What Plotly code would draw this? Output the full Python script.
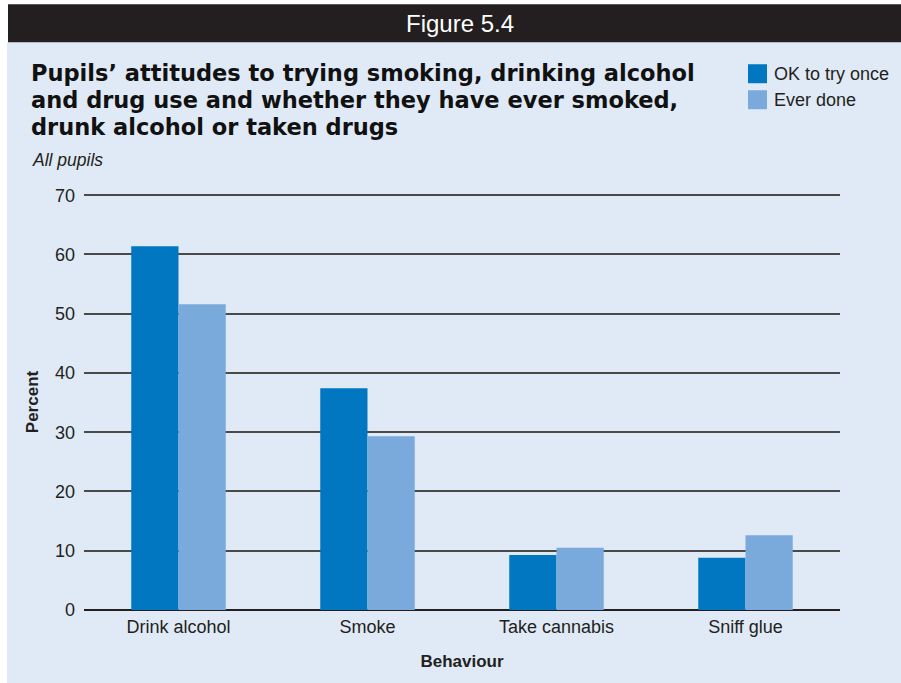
import plotly.graph_objects as go

# Survey results (percent of all pupils)
behaviours = ["Drink alcohol", "Smoke", "Take cannabis", "Sniff glue"]
ok_to_try_once = [61.4, 37.4, 9.3, 8.8]
ever_done = [51.6, 29.3, 10.5, 12.6]
series_names = ["OK to try once", "Ever done"]
series_colors = ["#0077c0", "#7aaadb"]
y_ticks = [0, 10, 20, 30, 40, 50, 60, 70]
title_lines = [
    "Pupils’ attitudes to trying smoking, drinking alcohol",
    "and drug use and whether they have ever smoked,",
    "drunk alcohol or taken drugs",
]

W, H = 901, 683
Y_TOP = 70.2
L, R, B = 84, 61, 73
PLOT_H = 415 * Y_TOP / 70
T = H - B - PLOT_H
PANEL = "#e0eaf6"
HEADER = "#231f20"
TEXT = "#231f20"
FONT = "Liberation Sans, Arial"


def px(x):
    return (x - L) / (W - L - R)


def py(y):
    return (H - B - y) / PLOT_H


fig = go.Figure()
for name, vals, col in zip(series_names, [ok_to_try_once, ever_done], series_colors):
    fig.add_trace(go.Bar(x=behaviours, y=vals, name=name, marker_color=col,
                         marker_line_width=0, showlegend=False))

shapes = [
    # light panel behind everything
    dict(type="rect", xref="paper", yref="paper", x0=px(7), x1=px(W + 2),
         y0=py(H + 2), y1=py(42), fillcolor=PANEL, line_width=0, layer="below"),
    # dark header strip
    dict(type="rect", xref="paper", yref="paper", x0=px(8), x1=px(W + 2),
         y0=py(42), y1=py(4), fillcolor=HEADER, line_width=0, layer="below"),
]

annotations = [
    dict(text="Figure 5.4", xref="paper", yref="paper", x=px(460), y=py(23),
         xanchor="center", yanchor="middle", showarrow=False,
         font=dict(family=FONT, size=24, color="white")),
    dict(text="<i>All pupils</i>", xref="paper", yref="paper", x=px(30), y=py(160),
         xanchor="left", yanchor="middle", showarrow=False,
         font=dict(family=FONT, size=17.5, color=TEXT)),
]

# heavy three-line heading
for i, line in enumerate(title_lines):
    annotations.append(dict(text=line, xref="paper", yref="paper", x=px(29), y=py(73 + 27 * i),
                            xanchor="left", yanchor="middle", showarrow=False,
                            font=dict(family="DejaVu Sans, Liberation Sans, Arial", size=22.5,
                                      weight="bold", color="#111")))

# legend swatches and labels
for i, (name, col) in enumerate(zip(series_names, series_colors)):
    top = 64 + i * 26
    shapes.append(dict(type="rect", xref="paper", yref="paper", x0=px(748), x1=px(767),
                       y0=py(top + 19), y1=py(top), fillcolor=col, line_width=0))
    annotations.append(dict(text=name, xref="paper", yref="paper", x=px(772), y=py(top + 9.5),
                            xanchor="left", yanchor="middle", showarrow=False,
                            font=dict(family=FONT, size=18, color=TEXT)))

fig.update_layout(
    width=W, height=H,
    margin=dict(l=L, r=R, t=T, b=B),
    paper_bgcolor="white",
    plot_bgcolor="rgba(0,0,0,0)",
    barmode="group", bargap=0.5, bargroupgap=0,
    shapes=shapes, annotations=annotations,
    font=dict(family=FONT, size=18, color=TEXT),
    xaxis=dict(range=[-0.5, 3.5], showgrid=False, showline=False, ticks="",
               tickfont=dict(size=18, color=TEXT), ticklabelstandoff=4,
               title=dict(text="<b>Behaviour</b>", font=dict(size=17, color=TEXT), standoff=19)),
    yaxis=dict(range=[0, Y_TOP], tickvals=y_ticks, showgrid=True, gridcolor="#4a4a4a",
               gridwidth=1.5, zeroline=True, zerolinecolor="#231f20", zerolinewidth=1.5,
               showline=False, ticks="", ticklabelstandoff=8,
               tickfont=dict(size=18, color=TEXT),
               title=dict(text="<b>Percent</b>", font=dict(size=17, color=TEXT), standoff=12)),
)

fig.write_html("out.html")
